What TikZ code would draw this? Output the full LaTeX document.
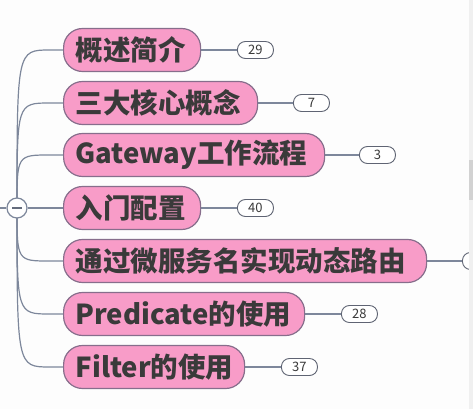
\documentclass[tikz,border=0pt]{standalone}
\usepackage{fontspec}
\newfontfamily\cjk{Noto Sans CJK SC}
\usetikzlibrary{calc}
\pgfdeclarelayer{bgfill}
\pgfdeclarelayer{lines}
\pgfsetlayers{bgfill,lines,main}
\definecolor{pinkfill}{RGB}{248,156,200}
\definecolor{boxline}{RGB}{135,110,140}
\definecolor{conn}{RGB}{125,135,155}
\definecolor{badgeline}{RGB}{95,100,115}
\definecolor{txt}{RGB}{58,58,58}
\definecolor{bg}{RGB}{253,253,253}
\begin{document}
\begin{tikzpicture}[x=1pt,y=-1pt,
  topic/.style={draw=boxline, line width=1.2pt, fill=pinkfill, rounded corners=19pt,
    minimum height=43pt, inner xsep=12pt, inner ysep=0pt, anchor=west, align=left,
    text width=#1-24pt,
    font=\cjk\bfseries\fontsize{27.5}{31}\selectfont, text=txt},
  badge/.style={draw=badgeline, line width=0.9pt, fill=white, rounded corners=8pt,
    minimum width=36pt, minimum height=17pt, inner sep=0pt, anchor=west,
    font=\cjk\fontsize{13}{15}\selectfont, text=txt},
  link/.style={draw=conn, line width=1.2pt},
  rootdot/.style={circle, draw=conn, line width=1.2pt, fill=white, minimum size=20pt, inner sep=0pt,
    path picture={\draw[draw=conn!80!black, line width=1.6pt]
      ($(path picture bounding box.center)+(-5,0)$) -- ($(path picture bounding box.center)+(5,0)$);}}]
\useasboundingbox (0,0) rectangle (473,409);
\begin{pgfonlayer}{bgfill}
\fill[bg] (0,0) rectangle (473,409);
\end{pgfonlayer}

% topics
\node[topic=137pt] (c1) at (63,50)  {概述简介};
\node[topic=194pt] (c2) at (63,103) {三大核心概念};
\node[topic=261pt] (c3) at (63,155) {Gateway工作流程};
\node[topic=137pt] (c4) at (63,208) {入门配置};
\node[topic=363pt] (c5) at (63,261) {通过微服务名实现动态路由};
\node[topic=241pt] (c6) at (63,314) {Predicate的使用};
\node[topic=181pt] (c7) at (63,367) {Filter的使用};

% badges
\node[badge] (b1) at (237,50)  {29};
\node[badge] (b2) at (293,103) {7};
\node[badge] (b3) at (359,155) {3};
\node[badge] (b4) at (237,208) {40};
\node[badge] (b5) at (462,261) {};
\node[badge] (b6) at (341,314) {28};
\node[badge] (b7) at (281,367) {37};

% root
\coordinate (parent) at (0,208);
\node[rootdot] (root) at (17,208) {};

\begin{pgfonlayer}{lines}
\foreach \c in {c1,c2,c3,c5,c6,c7}{
  \draw[link] (root.center) .. controls (root.center |- \c.west) and (root.center |- \c.west)
    .. ($(root.center |- \c.west)+(33,0)$) -- (\c.west);
}
\draw[link] (parent) -- (root.west);
\draw[link] (root.east) -- (c4.west);
\foreach \i in {1,...,7}{
  \draw[link] (c\i.east) -- (b\i.west);
}
\end{pgfonlayer}

% scrollbar strip
\fill[gray!12] (469,0) rectangle (473,409);
\fill[gray!35] (469,160) rectangle (473,200);
\end{tikzpicture}
\end{document}
